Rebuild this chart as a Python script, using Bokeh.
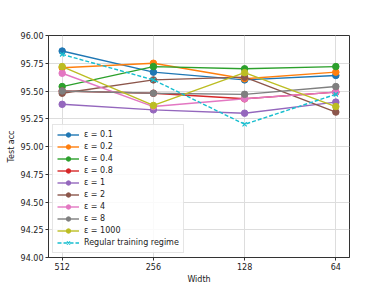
from bokeh.plotting import figure
from bokeh.models import Legend, LegendItem, FixedTicker, Range1d
from bokeh.embed import file_html
from bokeh.resources import INLINE

widths = ["512", "256", "128", "64"]
labels = ["ε = 0.1", "ε = 0.2", "ε = 0.4", "ε = 0.8", "ε = 1", "ε = 2", "ε = 4", "ε = 8", "ε = 1000"]
eps_01 = [95.86, 95.67, 95.60, 95.64]
eps_02 = [95.71, 95.75, 95.61, 95.67]
eps_04 = [95.54, 95.72, 95.70, 95.72]
eps_08 = [95.50, 95.48, 95.43, 95.49]
eps_1 = [95.38, 95.33, 95.30, 95.40]
eps_2 = [95.48, 95.60, 95.625, 95.31]
eps_4 = [95.66, 95.36, 95.43, 95.49]
eps_8 = [95.50, 95.48, 95.47, 95.54]
eps_1000 = [95.72, 95.37, 95.665, 95.36]
regular = [95.83, 95.60, 95.20, 95.47]
series = [eps_01, eps_02, eps_04, eps_08, eps_1, eps_2, eps_4, eps_8, eps_1000]
colors = ["#1f77b4", "#ff7f0e", "#2ca02c", "#d62728", "#9467bd", "#8c564b", "#e377c2", "#7f7f7f", "#bcbd22"]
y_ticks = [94.0, 94.25, 94.5, 94.75, 95.0, 95.25, 95.5, 95.75, 96.0]

FONT = "DejaVu Sans"
p = figure(width=372, height=286, output_backend="svg", toolbar_location=None,
           x_range=Range1d(-0.15, 3.15), y_range=Range1d(94.0, 96.0),
           min_border_left=48, min_border_right=23, min_border_top=35, min_border_bottom=27)
xs = list(range(len(widths)))
items = []
for lab, ys, c in zip(labels, series, colors):
    r1 = p.line(xs, ys, line_color=c, line_width=1.4)
    r2 = p.scatter(xs, ys, marker="circle", size=6.5, fill_color=c, line_color=c)
    items.append(LegendItem(label=lab, renderers=[r1, r2]))
r1 = p.line(xs, regular, line_color="#17becf", line_width=1.4, line_dash="4 2")
r2 = p.scatter(xs, regular, marker="x", size=6, line_color="#17becf", line_width=1.2)
items.append(LegendItem(label="Regular training regime", renderers=[r1, r2]))

p.xaxis.ticker = FixedTicker(ticks=xs)
p.xaxis.major_label_overrides = {i: w for i, w in enumerate(widths)}
p.yaxis.ticker = FixedTicker(ticks=y_ticks)
p.yaxis.major_label_overrides = {t: "%.2f" % t for t in y_ticks}
p.xaxis.axis_label = "Width"
p.yaxis.axis_label = "Test acc"
for ax in (p.xaxis[0], p.yaxis[0]):
    ax.axis_label_text_font = FONT
    ax.axis_label_text_font_style = "normal"
    ax.axis_label_text_font_size = "8px"
    ax.major_label_text_font = FONT
    ax.major_label_text_font_size = "8px"
    ax.major_label_text_color = "#222222"
    ax.axis_label_text_color = "#222222"
    ax.minor_tick_line_color = None
    ax.major_tick_in = 0
    ax.major_tick_out = 3
    ax.axis_line_color = "#333333"
    ax.major_tick_line_color = "#333333"
    ax.major_label_standoff = 2
    ax.axis_label_standoff = 2
p.grid.grid_line_color = "#dddddd"
p.grid.grid_line_width = 1
p.outline_line_color = "#333333"
p.outline_line_alpha = 1

legend = Legend(items=items, location="bottom_left")
legend.label_text_font = FONT
legend.label_text_font_size = "8px"
legend.label_text_color = "#222222"
legend.glyph_height = 11
legend.glyph_width = 22
legend.label_height = 11
legend.spacing = 1
legend.padding = 4
legend.margin = 4
legend.label_standoff = 5
legend.border_line_color = "#cccccc"
legend.background_fill_alpha = 0.85
p.add_layout(legend)

open("out.html", "w").write(file_html(p, INLINE))
